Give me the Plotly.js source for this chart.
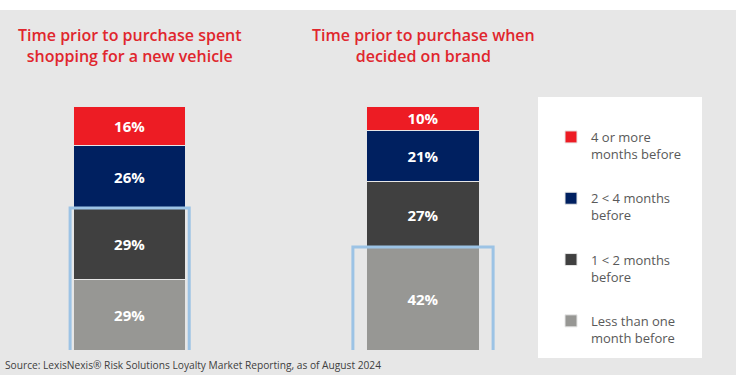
<!DOCTYPE html>
<html>
<head>
<meta charset="utf-8">
<script src="https://cdn.plot.ly/plotly-3.0.1.min.js"></script>
<style>html,body{margin:0;padding:0;background:#fff;}#chart{width:736px;height:385px;}</style>
</head>
<body>
<div id="chart"></div>
<script>
// ---- data ----
const categories = ['Shopping for a new vehicle', 'Decided on brand'];
const chartTitles = [
  'Time prior to purchase spent<br>shopping for a new vehicle',
  'Time prior to purchase when<br>decided on brand'
];
const seriesNames = [
  'Less than one<br>month before',
  '1 &lt; 2 months<br>before',
  '2 &lt; 4 months<br>before',
  '4 or more<br>months before'
];
const lessThanOneMonth = [29, 42];
const oneToTwoMonths = [29, 27];
const twoToFourMonths = [26, 21];
const fourOrMoreMonths = [16, 10];
const sourceText = 'Source: LexisNexis\u00ae Risk Solutions Loyalty Market Reporting, as of August 2024';

// ---- styles ----
const seriesValues = [lessThanOneMonth, oneToTwoMonths, twoToFourMonths, fourOrMoreMonths];
const seriesColors = ['#979794', '#404040', '#002060', '#ed1c24'];

const traces = seriesValues.map((vals, i) => ({
  type: 'bar',
  x: categories,
  y: vals,
  name: seriesNames[i],
  legendgroup: 'g' + i,
  legendrank: 1000 - i,
  width: 0.384,
  marker: {color: seriesColors[i], line: {color: '#e6e6e6', width: 1}},
  texttemplate: '%{y}%',
  textposition: 'inside',
  insidetextanchor: 'middle',
  constraintext: 'none',
  textfont: {color: '#ffffff', size: 15, family: 'Open Sans', weight: 700},
  hoverinfo: 'skip'
}));

// highlight boxes around bottom segments
const highlightTops = [lessThanOneMonth[0] + oneToTwoMonths[0], lessThanOneMonth[1]];
const highlightHalfWidths = [0.203, 0.239];

const shapes = [
  {type: 'rect', xref: 'paper', yref: 'paper', x0: 0, x1: 1, y0: -0.1025, y1: 1.3934,
   fillcolor: '#e7e7e7', line: {width: 0}, layer: 'below'},
  {type: 'rect', xref: 'paper', yref: 'paper', x0: 538/736, x1: 702/736, y0: -0.0328, y1: 1.0369,
   fillcolor: '#ffffff', line: {width: 0}, layer: 'below'}
];
highlightTops.forEach((top, i) => {
  shapes.push({type: 'rect', xref: 'x', yref: 'y',
    x0: i - highlightHalfWidths[i], x1: i + highlightHalfWidths[i], y0: -0.9, y1: top + 0.2,
    line: {color: '#9cc3e5', width: 3}, fillcolor: 'rgba(0,0,0,0)', layer: 'above'});
});

const annotations = chartTitles.map((t, i) => ({
  text: t, xref: 'x', yref: 'paper', x: i, y: 1.25, xanchor: 'center', yanchor: 'middle',
  showarrow: false, align: 'center',
  font: {family: 'Open Sans', size: 16, color: '#e0262d', weight: 600}
}));
annotations.push({
  text: sourceText, xref: 'paper', yref: 'paper', x: 0, y: -0.0615, xanchor: 'left', yanchor: 'middle',
  xshift: 3, showarrow: false, font: {family: 'Open Sans', size: 10.2, color: '#404040'}
});

const layout = {
  width: 736, height: 385,
  margin: {l: 0, r: 0, t: 106, b: 35, pad: 0},
  paper_bgcolor: '#ffffff',
  plot_bgcolor: 'rgba(0,0,0,0)',
  barmode: 'stack',
  bargap: 0,
  xaxis: {type: 'category', range: [-0.442, 2.067], visible: false, fixedrange: true},
  yaxis: {range: [0, 100], visible: false, fixedrange: true},
  showlegend: true,
  legend: {
    x: 551/736, y: 1.0369 - 25/244, xanchor: 'left', yanchor: 'top',
    bgcolor: 'rgba(0,0,0,0)', borderwidth: 0,
    traceorder: 'grouped', tracegroupgap: 24.5, valign: 'top',
    font: {family: 'Open Sans', size: 13, color: '#595959'}
  },
  shapes: shapes,
  annotations: annotations
};

Plotly.newPlot('chart', traces, layout, {displayModeBar: false, staticPlot: true});
</script>
</body>
</html>
